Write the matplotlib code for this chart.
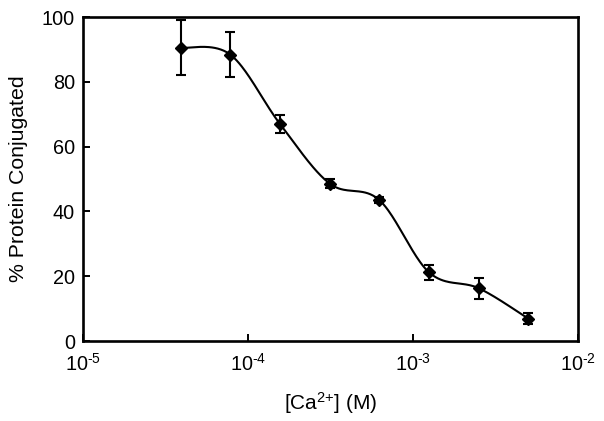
import matplotlib
matplotlib.use("Agg")
import matplotlib.pyplot as plt
import numpy as np

plt.rcParams["font.family"] = ["Liberation Sans", "DejaVu Sans"]
plt.rcParams["mathtext.fontset"] = "custom"
plt.rcParams["mathtext.rm"] = "Liberation Sans"
plt.rcParams["mathtext.it"] = "Liberation Sans"
plt.rcParams["mathtext.default"] = "regular"

# data
ca_conc = [3.90625e-5, 7.8125e-5, 1.5625e-4, 3.125e-4, 6.25e-4, 1.25e-3, 2.5e-3, 5e-3]
conjugated = [90.5, 88.4, 67.0, 48.6, 43.5, 21.2, 16.3, 6.9]
conj_err = [8.5, 7.0, 2.8, 1.4, 1.0, 2.4, 3.3, 1.8]
y_ticks = [0, 20, 40, 60, 80, 100]
x_ticks = [1e-5, 1e-4, 1e-3, 1e-2]


def smooth_curve(u, v, n=40):
    # Excel-style smoothed line (Catmull-Rom as cubic Bezier segments)
    u = np.asarray(u, float)
    v = np.asarray(v, float)
    pts = np.column_stack([u, v])
    out = []
    t = np.linspace(0, 1, n)[:, None]
    for i in range(len(pts) - 1):
        p0 = pts[max(i - 1, 0)]
        p1 = pts[i]
        p2 = pts[i + 1]
        p3 = pts[min(i + 2, len(pts) - 1)]
        c1 = p1 + (p2 - p0) / 6
        c2 = p2 - (p3 - p1) / 6
        seg = (1 - t) ** 3 * p1 + 3 * (1 - t) ** 2 * t * c1 + 3 * (1 - t) * t ** 2 * c2 + t ** 3 * p2
        out.append(seg if i == 0 else seg[1:])
    out = np.vstack(out)
    return out[:, 0], out[:, 1]


def decade_label(v, pos):
    return "10$^{\\text{-%d}}$" % int(round(-np.log10(v)))


fig = plt.figure(figsize=(6.04, 4.21), dpi=100)
ax = fig.add_axes([0.1374, 0.190, 0.8196, 0.7696])

su, sv = smooth_curve(np.log10(ca_conc), conjugated)
ax.plot(10 ** su, sv, color="black", lw=1.5, zorder=2)
ax.errorbar(ca_conc, conjugated, yerr=conj_err, fmt="D", color="black",
            ms=6.5, ecolor="black", elinewidth=1.5, capsize=3.3, capthick=1.5, zorder=3)

ax.set_xscale("log")
ax.set_xlim(1e-5, 1e-2)
ax.set_ylim(0, 100)
ax.set_yticks(y_ticks)
ax.set_xticks(x_ticks)
ax.xaxis.set_major_formatter(matplotlib.ticker.FuncFormatter(decade_label))
ax.xaxis.set_minor_locator(matplotlib.ticker.NullLocator())

for s in ax.spines.values():
    s.set_linewidth(1.9)
ax.tick_params(direction="in", length=5, width=1.4, labelsize=14.3, colors="black")
ax.tick_params(axis="y", pad=5.8)
ax.tick_params(axis="x", pad=8.6)

ax.set_xlabel("[Ca$^{\\text{2+}}$] (M)", fontsize=15, labelpad=11)
ax.set_ylabel("% Protein Conjugated", fontsize=15.3, labelpad=10)

fig.savefig("out.png", dpi=100)
